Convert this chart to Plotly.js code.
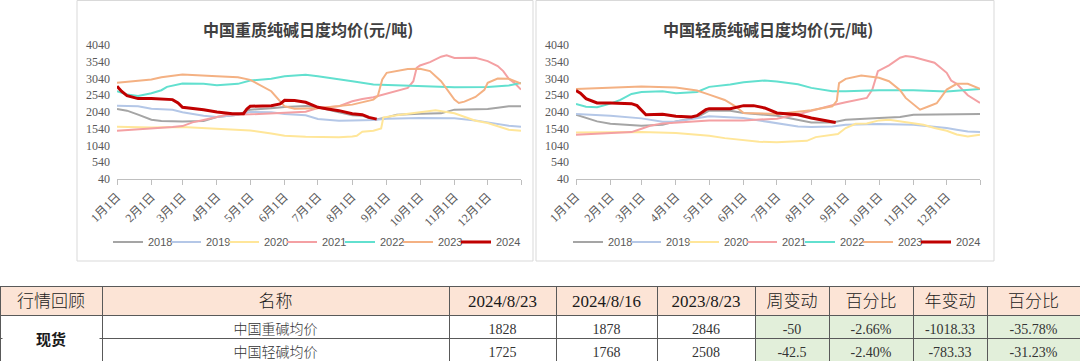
<!DOCTYPE html>
<html><head><meta charset="utf-8">
<script src="https://cdn.plot.ly/plotly-3.0.1.min.js"></script>
<style>html,body{margin:0;padding:0;background:#fff;}#chart{width:1080px;height:361px;}</style>
</head><body><div id="chart"></div>
<script>
// ---------- data ----------
const years = ['2018','2019','2020','2021','2022','2023','2024'];
const monthTicks = ['01-01','02-01','03-01','04-01','05-01','06-01','07-01','08-01','09-01','10-01','11-01','12-01'];
const monthLabels = ['1月1日','2月1日','3月1日','4月1日','5月1日','6月1日','7月1日','8月1日','9月1日','10月1日','11月1日','12月1日'];
const yTicks = [40,540,1040,1540,2040,2540,3040,3540,4040];

// heavy soda ash (重质)
const heavyD2018 = ['01-01','01-10','01-20','02-01','02-10','02-20','03-01','03-20','04-01','04-20','05-01','05-20','06-01','06-20','07-01','07-20','08-01','08-10','08-20','09-01','09-10','10-01','10-20','11-01','11-20','12-01','12-10','12-20','12-31'];
const heavyV2018 = [2130,2080,1960,1810,1770,1760,1760,1770,1890,1960,2110,2150,2190,2220,2180,2030,1940,1930,1800,1880,1960,1990,2000,2110,2130,2130,2170,2210,2210];
const heavyD2019 = ['01-01','01-20','02-01','02-20','03-01','03-20','04-01','04-20','05-01','05-20','06-01','06-20','07-01','07-20','08-01','08-20','09-01','10-01','11-01','11-20','12-01','12-10','12-20','12-31'];
const heavyV2019 = [2230,2210,2140,2110,2030,1930,1890,1960,2040,2030,1980,1940,1830,1780,1790,1800,1840,1860,1850,1790,1730,1680,1630,1600];
const heavyD2020 = ['01-01','02-01','03-01','04-01','05-01','05-20','06-01','06-20','07-01','07-20','08-01','08-05','08-10','08-20','08-27','08-29','09-01','09-10','10-01','10-15','11-01','11-10','11-20','12-01','12-10','12-20','12-31'];
const heavyV2020 = [1600,1580,1590,1540,1490,1400,1330,1300,1290,1290,1310,1330,1450,1480,1550,1880,1890,1940,2030,2090,2000,1890,1780,1710,1610,1510,1480];
const heavyD2021 = ['01-01','02-01','02-20','03-01','03-10','03-20','04-01','04-10','05-01','06-01','06-20','07-01','07-20','08-01','08-10','08-20','09-01','09-20','09-25','09-28','10-01','10-10','10-20','10-25','11-01','11-20','12-01','12-10','12-15','12-20','12-25','12-31'];
const heavyV2021 = [1480,1540,1590,1620,1730,1800,1900,1960,1970,2010,2050,2160,2210,2360,2430,2480,2580,2760,2960,3360,3430,3530,3690,3730,3650,3660,3560,3410,3260,3030,2910,2710];
const heavyD2022 = ['01-01','01-10','01-20','02-01','02-10','02-15','03-01','03-20','04-01','04-20','05-01','05-20','06-01','06-20','07-01','07-20','08-01','08-20','09-01','10-01','11-01','12-01','12-20','12-31'];
const heavyV2022 = [2660,2560,2520,2600,2690,2790,2890,2880,2840,2880,2980,3030,3110,3150,3110,3030,2960,2860,2850,2810,2780,2790,2830,2910];
const heavyD2023 = ['01-01','01-20','02-01','02-10','03-01','04-01','04-20','05-01','05-20','06-01','06-10','07-01','08-01','08-20','08-24','08-28','09-01','09-20','10-01','10-10','10-20','11-01','11-05','11-10','11-20','11-28','12-01','12-10','12-20','12-31'];
const heavyV2023 = [2910,2960,3010,3080,3160,3110,3080,3000,2660,2210,2140,2150,2260,2410,2520,3010,3210,3320,3330,3260,2960,2410,2310,2350,2490,2700,2910,3040,3030,2890];
const heavyD2024 = ['01-01','01-05','01-10','01-20','02-01','02-20','02-25','03-01','03-20','04-01','04-15','04-25','04-28','05-01','05-20','05-28','06-01','06-10','06-20','07-01','07-10','07-20','08-01','08-10','08-16','08-23'];
const heavyV2024 = [2810,2660,2530,2440,2440,2410,2310,2180,2110,2040,1990,1990,2130,2210,2230,2280,2390,2380,2330,2180,2130,2080,1990,1960,1878,1828];

// light soda ash (轻质)
const lightD2018 = ['01-01','01-10','01-20','02-01','02-20','03-01','03-20','04-01','04-20','05-01','05-20','06-01','07-01','07-20','08-01','08-20','09-01','10-01','10-20','11-01','12-01','12-31'];
const lightV2018 = [1960,1860,1760,1690,1660,1630,1660,1760,1880,2080,2080,2010,1930,1820,1730,1730,1810,1860,1890,1960,1980,1980];
const lightD2019 = ['01-01','02-01','03-01','03-20','04-01','04-20','05-01','06-01','06-20','07-01','07-20','08-01','08-20','09-01','10-01','11-01','11-20','12-01','12-10','12-20','12-31'];
const lightV2019 = [1980,1930,1850,1750,1760,1860,1910,1860,1760,1690,1610,1590,1610,1660,1680,1660,1610,1560,1510,1460,1440];
const lightD2020 = ['01-01','02-01','03-01','04-01','05-01','05-15','06-01','06-15','07-01','07-20','07-28','08-05','08-20','08-25','09-01','09-10','09-20','10-01','10-10','10-20','11-01','11-10','11-20','12-01','12-10','12-20','12-31'];
const lightV2020 = [1430,1430,1440,1410,1330,1260,1210,1150,1140,1170,1180,1290,1360,1380,1560,1690,1700,1790,1810,1760,1710,1660,1560,1480,1370,1310,1360];
const lightD2021 = ['01-01','02-01','02-20','03-01','03-10','03-20','04-01','05-01','06-01','07-01','07-20','08-01','08-20','09-01','09-20','09-25','09-30','10-10','10-20','10-25','11-01','11-10','11-20','12-01','12-05','12-10','12-20','12-31'];
const lightV2021 = [1360,1410,1440,1540,1640,1700,1730,1790,1790,1840,1970,2080,2240,2330,2460,2710,3260,3430,3660,3710,3680,3600,3510,3210,2980,2880,2540,2310];
const lightD2022 = ['01-01','01-10','01-20','02-01','02-10','02-20','03-01','03-20','04-01','04-20','05-01','05-20','06-01','06-20','07-01','07-20','08-01','08-20','09-01','10-01','11-01','12-01','12-31'];
const lightV2022 = [2280,2200,2180,2290,2400,2580,2640,2660,2600,2640,2790,2860,2930,2980,2950,2870,2760,2660,2660,2690,2690,2650,2730];
const lightD2023 = ['01-01','02-01','03-01','04-01','04-20','05-01','05-15','05-25','06-01','07-01','08-01','08-20','08-24','08-26','09-01','09-15','10-01','10-10','10-20','10-25','11-01','11-07','11-15','11-22','12-01','12-10','12-20','12-31'];
const lightV2023 = [2730,2760,2800,2770,2680,2560,2400,2200,2010,1980,2090,2210,2370,2900,3030,3130,3060,2960,2690,2460,2260,2110,2210,2300,2710,2880,2880,2730];
const lightD2024 = ['01-01','01-05','01-10','01-20','02-01','02-20','02-25','03-01','03-05','03-20','04-01','04-15','04-20','04-28','05-01','05-20','06-01','06-10','06-20','07-01','07-20','08-01','08-10','08-16','08-23'];
const lightV2024 = [2680,2600,2440,2310,2310,2290,2230,2080,1960,1970,1910,1890,1930,2110,2140,2140,2230,2230,2160,2010,1960,1860,1810,1768,1725];

// table
const tableHeader = ['行情回顾','名称','2024/8/23','2024/8/16','2023/8/23','周变动','百分比','年变动','百分比'];
const tableCategory = '现货';
const tableNames = ['中国重碱均价','中国轻碱均价'];
const priceCur = ['1828','1725'];
const priceWeekAgo = ['1878','1768'];
const priceYearAgo = ['2846','2508'];
const weekChange = ['-50','-42.5'];
const weekPct = ['-2.66%','-2.40%'];
const yearChange = ['-1018.33','-783.33'];
const yearPct = ['-35.78%','-31.23%'];

// ---------- styling ----------
const colors = ['#A5A5A5','#B4C7E7','#FFE699','#F4A0A3','#62E0CF','#F4B183','#C00000'];
const BASE = '2023-';
const W = 1080, H = 361;
const px = v => v / W, py = v => (H - v) / H;
const serif = 'Liberation Serif, Noto Sans CJK SC, serif';
const cjk = 'Noto Sans CJK SC, sans-serif';

const heavy = {2018:[heavyD2018,heavyV2018],2019:[heavyD2019,heavyV2019],2020:[heavyD2020,heavyV2020],2021:[heavyD2021,heavyV2021],2022:[heavyD2022,heavyV2022],2023:[heavyD2023,heavyV2023],2024:[heavyD2024,heavyV2024]};
const light = {2018:[lightD2018,lightV2018],2019:[lightD2019,lightV2019],2020:[lightD2020,lightV2020],2021:[lightD2021,lightV2021],2022:[lightD2022,lightV2022],2023:[lightD2023,lightV2023],2024:[lightD2024,lightV2024]};

const traces = [];
function addSeries(src, xa, ya, leg) {
  years.forEach((y, i) => {
    const [d, v] = src[y];
    traces.push({
      type: 'scatter', mode: 'lines', name: y,
      x: d.map(s => BASE + s), y: v,
      xaxis: xa, yaxis: ya, legend: leg,
      line: {color: colors[i], width: y === '2024' ? 3 : 2},
      hoverinfo: 'skip'
    });
  });
  // invisible spacer entry so the last legend label is not clipped
  traces.push({
    type: 'scatter', mode: 'lines', name: ' ',
    x: [BASE + '01-01'], y: [null],
    xaxis: xa, yaxis: ya, legend: leg,
    line: {color: 'rgba(0,0,0,0)', width: 0},
    hoverinfo: 'skip'
  });
}
addSeries(heavy, 'x', 'y', 'legend');
addSeries(light, 'x2', 'y2', 'legend2');

const white = '#FFFFFF', green = '#E2EFDA';
traces.push({
  type: 'table',
  domain: {x: [0, 1], y: [0, py(286)]},
  columnwidth: [102,347,107,101,98,74,84,74,93],
  header: {
    values: tableHeader,
    height: 29,
    align: 'center',
    fill: {color: '#FCE4D6'},
    line: {color: '#595959', width: 1},
    font: {family: serif, size: 17, color: '#1a1a1a', weight: 300}
  },
  cells: {
    values: [['',''], tableNames, priceCur, priceWeekAgo, priceYearAgo, weekChange, weekPct, yearChange, yearPct],
    height: 23,
    align: 'center',
    fill: {color: [white, white, white, white, white, green, green, green, green]},
    line: {color: '#595959', width: 1},
    font: {family: serif, size: 14, color: '#333333', weight: 300}
  }
});

function axisX(domain, anchor) {
  return {
    type: 'date', domain: domain, anchor: anchor,
    range: [BASE + '01-01', BASE + '12-31'],
    tickvals: monthTicks.map(s => BASE + s).concat([BASE + '12-31']),
    ticktext: monthLabels.concat(['']),
    tickangle: -45, ticks: 'outside', ticklen: 5, tickcolor: '#BFBFBF',
    showline: true, linecolor: '#BFBFBF', linewidth: 1,
    showgrid: false, zeroline: false,
    tickfont: {family: serif, size: 12, color: '#595959'}
  };
}
function axisY(anchor) {
  return {
    domain: [py(179), py(45)], anchor: anchor,
    range: [40, 4040], tickvals: yTicks,
    showgrid: false, zeroline: false, showline: false, ticks: '',
    ticklabelstandoff: 6,
    tickfont: {family: serif, size: 12, color: '#595959'}
  };
}
function legendAt(left) {
  return {
    orientation: 'h', x: px(left), xanchor: 'left', y: py(242), yanchor: 'middle',
    font: {family: 'Liberation Sans, sans-serif', size: 11, color: '#595959'},
    bgcolor: 'rgba(0,0,0,0)', itemwidth: 30, tracegroupgap: 0,
    entrywidth: 13
  };
}

const layout = {
  width: W, height: H,
  margin: {l: 0, r: 0, t: 0, b: 0},
  paper_bgcolor: '#fff', plot_bgcolor: '#fff',
  showlegend: true,
  xaxis: axisX([px(117), px(521)], 'y'),
  yaxis: axisY('x'),
  xaxis2: axisX([px(576), px(980)], 'y2'),
  yaxis2: axisY('x2'),
  legend: legendAt(108),
  legend2: legendAt(568),
  shapes: [
    {type: 'rect', xref: 'paper', yref: 'paper', x0: px(77), x1: px(533), y0: py(261), y1: py(0.5), line: {color: '#D9D9D9', width: 1}},
    {type: 'rect', xref: 'paper', yref: 'paper', x0: px(536), x1: px(994), y0: py(261), y1: py(0.5), line: {color: '#D9D9D9', width: 1}}
  ],
  annotations: [
    {text: '中国重质纯碱日度均价(元/吨)', xref: 'paper', yref: 'paper', x: px(308), y: py(29), xanchor: 'center', yanchor: 'middle', showarrow: false, font: {family: cjk, size: 16, color: '#404040', weight: 'bold'}},
    {text: '中国轻质纯碱日度均价(元/吨)', xref: 'paper', yref: 'paper', x: px(768), y: py(29), xanchor: 'center', yanchor: 'middle', showarrow: false, font: {family: cjk, size: 16, color: '#404040', weight: 'bold'}},
    {text: tableCategory, xref: 'paper', yref: 'paper', x: px(51), y: py(337.5), xanchor: 'center', yanchor: 'middle', showarrow: false, bgcolor: '#FFFFFF', width: 96, height: 18, borderpad: 0, font: {family: cjk, size: 15, color: '#1a1a1a', weight: 'bold'}}
  ]
};

Plotly.newPlot('chart', traces, layout, {displayModeBar: false, staticPlot: true});
</script>
</body></html>
